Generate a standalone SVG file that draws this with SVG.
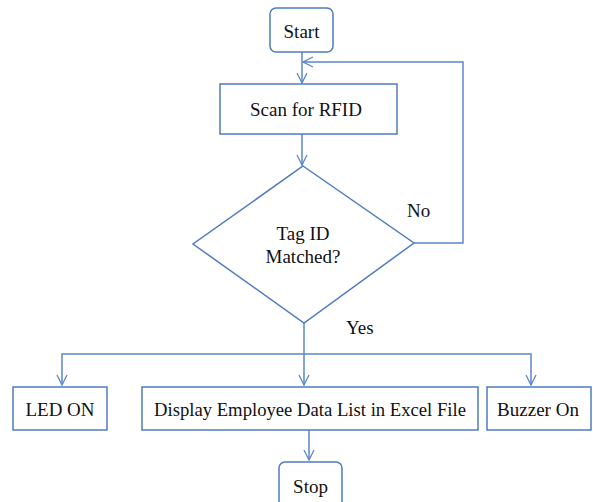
<svg xmlns="http://www.w3.org/2000/svg" width="593" height="502" viewBox="0 0 593 502">
<style>
.box{fill:#fff;stroke:#4f7bbd;stroke-width:1.5}
.ln{fill:none;stroke:#5b87c8;stroke-width:1.5}
text{font-family:'Liberation Serif',serif !important;font-size:19px;fill:#111}
</style>
<defs>
<marker id="ah" viewBox="0 0 12 12" refX="11" refY="6" markerWidth="12" markerHeight="12" markerUnits="userSpaceOnUse" orient="auto">
<path d="M1,1 L11,6 L1,11" fill="none" stroke="#5b87c8" stroke-width="1.3"/>
</marker>
</defs>
<g id="connectors">
<path class="ln" d="M302,52 V83" marker-end="url(#ah)"/>
<path class="ln" d="M302,134 V165" marker-end="url(#ah)"/>
<path class="ln" d="M414,243 H463 V62 H303" marker-end="url(#ah)"/>
<path class="ln" d="M304,323 V385" marker-end="url(#ah)"/>
<path class="ln" d="M304,354 H62 V385" marker-end="url(#ah)"/>
<path class="ln" d="M304,354 H531 V385" marker-end="url(#ah)"/>
<path class="ln" d="M309,430 V460" marker-end="url(#ah)"/>
</g>
<g id="start"><rect class="box" x="270" y="8" width="63" height="44" rx="6"/><text x="301.5" y="38" text-anchor="middle" font-family="Liberation Serif" style="font-family:'Liberation Serif',serif">Start</text></g>
<g id="scan"><rect class="box" x="220" y="84" width="177" height="50"/><text x="306" y="116" text-anchor="middle" font-family="Liberation Serif" style="font-family:'Liberation Serif',serif">Scan for RFID</text></g>
<g id="decision"><polygon class="box" points="303,166 414,243 304,323 193,244"/><text x="303" y="240" text-anchor="middle" font-family="Liberation Serif" style="font-family:'Liberation Serif',serif">Tag ID</text><text x="303" y="263" text-anchor="middle" font-family="Liberation Serif" style="font-family:'Liberation Serif',serif">Matched?</text></g>
<text x="407" y="217" font-family="Liberation Serif" style="font-family:'Liberation Serif',serif">No</text>
<text x="346" y="334" font-family="Liberation Serif" style="font-family:'Liberation Serif',serif">Yes</text>
<g id="led"><rect class="box" x="13" y="387" width="94" height="43"/><text x="60" y="416" text-anchor="middle" font-family="Liberation Serif" style="font-family:'Liberation Serif',serif">LED ON</text></g>
<g id="display"><rect class="box" x="142" y="387" width="336" height="43"/><text x="310" y="416" text-anchor="middle" font-family="Liberation Serif" style="font-family:'Liberation Serif',serif" textLength="312" lengthAdjust="spacingAndGlyphs">Display Employee Data List in Excel File</text></g>
<g id="buzzer"><rect class="box" x="487" y="387" width="104" height="43"/><text x="538" y="416" text-anchor="middle" font-family="Liberation Serif" style="font-family:'Liberation Serif',serif">Buzzer On</text></g>
<g id="stop"><rect class="box" x="279" y="462" width="63" height="46" rx="6"/><text x="310.5" y="493" text-anchor="middle" font-family="Liberation Serif" style="font-family:'Liberation Serif',serif">Stop</text></g>
</svg>
